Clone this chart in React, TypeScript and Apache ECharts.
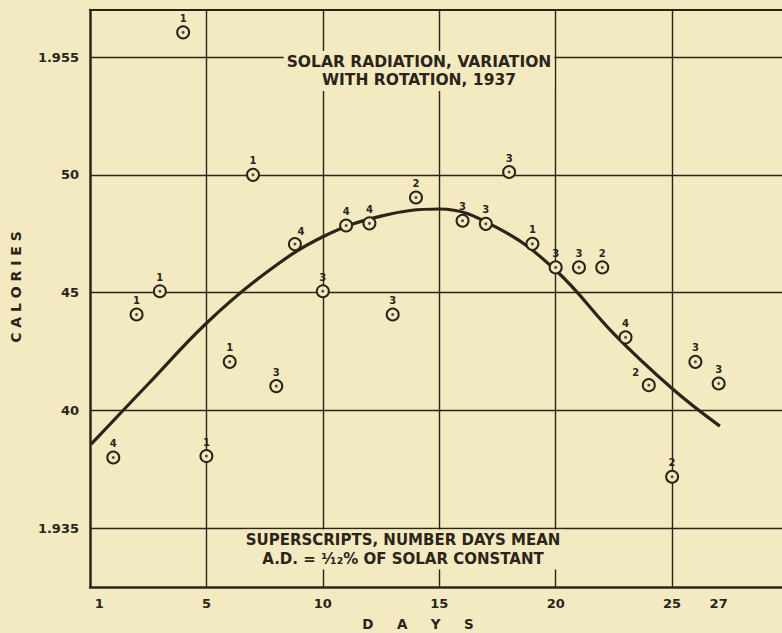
import React, { useEffect, useRef } from "react";
import * as echarts from "echarts";

// Observed daily means (day of rotation, calories)
const days = [1, 2, 3, 4, 5, 6, 7, 8, 8.8, 10, 11, 12, 13, 14, 16, 17, 18, 19, 20, 21, 22, 23, 24, 25, 26, 27];
const calories = [
  1.938, 1.94407, 1.94506, 1.95605, 1.93806, 1.94206, 1.95, 1.94103, 1.94706, 1.94506,
  1.94785, 1.94794, 1.94407, 1.94904, 1.94805, 1.94792, 1.95012, 1.94707, 1.94607, 1.94607,
  1.94607, 1.9431, 1.94107, 1.93718, 1.94206, 1.94114,
];
// Superscripts: number of days in each mean
const superscripts = ["4", "1", "1", "1", "1", "1", "1", "3", "4", "3", "4", "4", "3", "2", "3", "3", "3", "1", "3", "3", "2", "4", "2", "2", "3", "3"];

// Smoothed curve drawn through the data
const curveDays = [0.05, 2.5, 5, 7.5, 10, 12.5, 15, 17.5, 20, 22.5, 25, 27.05];
const curveCalories = [1.93857, 1.94112, 1.9437, 1.9458, 1.94737, 1.94825, 1.94855, 1.94775, 1.94595, 1.94325, 1.94093, 1.93933];

// Axis ticks
const yTickValues = [1.935, 1.94, 1.945, 1.95, 1.955];
const yTickLabels = ["1.935", "40", "45", "50", "1.955"];
const xGridValues = [5, 10, 15, 20, 25];
const xLabelValues = [0.4, 5, 10, 15, 20, 25, 27];
const xLabelTexts = ["1", "5", "10", "15", "20", "25", "27"];

const PAPER = "#F3EAC1";
const INK = "#2B2417";
const FONT = "'DejaVu Sans', 'Liberation Sans', sans-serif";

export default function App() {
  const ref = useRef<HTMLDivElement>(null);

  useEffect(() => {
    document.body.style.margin = "0";
    document.body.style.background = PAPER;
    const chart = echarts.init(ref.current!, null, { renderer: "svg" });

    const labelOffsets: Record<number, number[]> = { 8.8: [6, 1], 24: [-13, 1] };

    const ringData = days.map((d, i) => {
      const item: any = { value: [d, calories[i], superscripts[i]] };
      if (labelOffsets[d]) item.label = { offset: labelOffsets[d] };
      return item;
    });

    chart.setOption({
      animation: false,
      backgroundColor: PAPER,
      grid: { left: 90, top: 10, width: 693, height: 577, show: false },
      xAxis: {
        type: "value",
        min: 0,
        max: 29.72,
        axisLine: { show: true, onZero: false, lineStyle: { color: INK, width: 2.5 } },
        axisTick: { show: false, customValues: xGridValues },
        splitLine: { show: true, lineStyle: { color: INK, width: 1.4 } },
        axisLabel: {
          customValues: xLabelValues,
          formatter: (v: number) => {
            const k = xLabelValues.findIndex((x) => Math.abs(x - v) < 1e-6);
            return k >= 0 ? xLabelTexts[k] : "";
          },
          color: INK,
          fontFamily: FONT,
          fontWeight: "bold",
          fontSize: 13,
          margin: 10,
        },
      },
      yAxis: {
        type: "value",
        min: 1.9325,
        max: 1.957,
        axisLine: { show: true, onZero: false, lineStyle: { color: INK, width: 2.5 } },
        axisTick: { show: false, customValues: yTickValues },
        splitLine: { show: true, lineStyle: { color: INK, width: 1.4 } },
        axisLabel: {
          customValues: yTickValues,
          formatter: (v: number) => {
            const k = yTickValues.findIndex((y) => Math.abs(y - v) < 1e-7);
            return k >= 0 ? yTickLabels[k] : "";
          },
          color: INK,
          fontFamily: FONT,
          fontWeight: "bold",
          fontSize: 13,
          margin: 11,
        },
      },
      graphic: [
        // top border
        {
          type: "line",
          shape: { x1: 89, y1: 10, x2: 782, y2: 10 },
          style: { stroke: INK, lineWidth: 2 },
          z: 5,
        },
        {
          type: "text",
          x: 419,
          y: 71,
          z: 10,
          style: {
            text: "SOLAR RADIATION, VARIATION\nWITH ROTATION, 1937",
            align: "center",
            verticalAlign: "middle",
            fill: INK,
            font: `bold 15.5px ${FONT}`,
            lineHeight: 18,
            backgroundColor: PAPER,
            padding: [2, 3, 2, 3],
          },
        },
        {
          type: "text",
          x: 403,
          y: 549.5,
          z: 10,
          style: {
            text: "SUPERSCRIPTS, NUMBER DAYS MEAN\nA.D. = ¹⁄₁₂% OF SOLAR CONSTANT",
            align: "center",
            verticalAlign: "middle",
            fill: INK,
            font: `bold 15px ${FONT}`,
            lineHeight: 19,
            backgroundColor: PAPER,
            padding: [0, 3, 2, 3],
          },
        },
        {
          type: "text",
          x: 418,
          y: 624,
          style: {
            text: "D     A     Y     S",
            align: "center",
            verticalAlign: "middle",
            fill: INK,
            font: `bold 13.5px ${FONT}`,
          },
        },
        {
          type: "text",
          x: 16,
          y: 287,
          rotation: Math.PI / 2,
          style: {
            text: "C A L O R I E S",
            align: "center",
            verticalAlign: "middle",
            fill: INK,
            font: `bold 14px ${FONT}`,
          },
        },
      ],
      series: [
        {
          type: "line",
          data: curveDays.map((d, i) => [d, curveCalories[i]]),
          smooth: 0.4,
          showSymbol: false,
          lineStyle: { color: INK, width: 3.2 },
          z: 2,
          silent: true,
        },
        {
          type: "scatter",
          data: ringData,
          symbol: "circle",
          symbolSize: 12,
          itemStyle: { color: PAPER, borderColor: INK, borderWidth: 2, opacity: 1 },
          label: {
            show: true,
            position: "top",
            distance: 2,
            formatter: (p: any) => p.value[2],
            color: INK,
            fontFamily: FONT,
            fontWeight: "bold",
            fontSize: 10,
          },
          z: 3,
          silent: true,
        },
        {
          type: "scatter",
          data: days.map((d, i) => [d, calories[i]]),
          symbol: "circle",
          symbolSize: 3,
          itemStyle: { color: INK },
          z: 4,
          silent: true,
        },
      ],
    });

    return () => chart.dispose();
  }, []);

  return (
    <div
      ref={ref}
      style={{ position: "absolute", left: 0, top: 0, width: 782, height: 633 }}
    />
  );
}
